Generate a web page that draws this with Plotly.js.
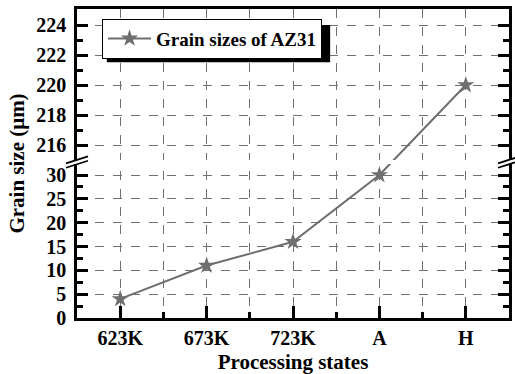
<!DOCTYPE html>
<html><head><meta charset="utf-8">
<script src="https://cdn.plot.ly/plotly-3.0.1.min.js"></script>
<style>html,body{margin:0;padding:0;background:#fff}</style>
</head><body><div id="chart" style="width:515px;height:374px"></div>
<script>
// ---- data ----
const states = ['623K', '673K', '723K', 'A', 'H'];
const grainSize = [4, 11, 16, 30, 220];
const lowerTicks = [0, 5, 10, 15, 20, 25, 30];
const lowerMinor = [2.5, 7.5, 12.5, 17.5, 22.5, 27.5];
const upperTicks = [216, 218, 220, 222, 224];
const upperMinor = [217, 219, 221, 223];
const halfSteps = [0.5, 1.5, 2.5, 3.5];
const seriesName = 'Grain sizes of AZ31';

// ---- broken-axis mapping (lower segment 0..32.5, upper segment 215..225) ----
const LOW_MAX = 32.5, UP_BASE = 216, UP_OFFSET = 36.29, UP_SCALE = 3.147;
function ty(v) { return v <= LOW_MAX ? v : UP_OFFSET + (v - UP_BASE) * UP_SCALE; }
const BREAK_AT = 32.72;
const Y_TOP = ty(225.07);

const idx = states.map((_, i) => i);
const serif = 'Liberation Serif';
const tickFont = {family: serif, size: 20, weight: 'bold', color: '#000'};
const titleFont = {family: serif, size: 21, weight: 'bold', color: '#000'};
const gridCol = '#707070';
const lineCol = '#6e6e6e';

const trace = {
  x: idx,
  y: grainSize.map(ty),
  name: seriesName,
  type: 'scatter',
  mode: 'lines+markers',
  line: {color: lineCol, width: 2},
  marker: {symbol: 'star', size: 13, color: lineCol, line: {width: 0}},
  showlegend: true
};

const brk = (xa, dy) => ({
  type: 'line', layer: 'above', xref: 'paper', yref: 'y',
  xsizemode: 'pixel', xanchor: xa, ysizemode: 'pixel', yanchor: BREAK_AT,
  x0: -11, x1: 11, y0: -3.5 + dy, y1: 3.5 + dy,
  line: {color: '#000', width: 1.8}
});

const gridStyle = {showgrid: true, gridcolor: gridCol, gridwidth: 1, griddash: 'dash'};

const layout = {
  width: 515, height: 374,
  margin: {l: 77, r: 6, t: 9, b: 56},
  paper_bgcolor: '#fff', plot_bgcolor: 'rgba(0,0,0,0)',
  showlegend: true,
  legend: {
    x: 0.058, y: 0.969, xanchor: 'left', yanchor: 'top',
    bgcolor: '#fff', bordercolor: '#000', borderwidth: 1,
    font: {family: serif, size: 19, weight: 'bold', color: '#000'},
    itemwidth: 43
  },
  xaxis: Object.assign({
    range: [-0.5, 4.5], tickmode: 'array', tickvals: idx, ticktext: states,
    ticks: 'inside', ticklen: 12, tickwidth: 3, tickcolor: '#000',
    showline: true, linewidth: 2.5, linecolor: '#000', mirror: true,
    zeroline: false, tickfont: tickFont,
    minor: Object.assign({tickmode: 'array', tickvals: halfSteps, ticks: 'inside', ticklen: 6,
            tickwidth: 3, tickcolor: '#000'}, gridStyle),
    title: {text: 'Processing states', font: titleFont, standoff: 10}
  }, gridStyle),
  yaxis: Object.assign({
    range: [0, Y_TOP], tickmode: 'array',
    tickvals: lowerTicks.concat(upperTicks).map(ty),
    ticktext: lowerTicks.concat(upperTicks).map(String),
    ticks: 'inside', ticklen: 11, tickwidth: 3, tickcolor: '#000',
    showline: true, linewidth: 2.5, linecolor: '#000', mirror: 'ticks',
    zeroline: false, tickfont: tickFont, ticklabelstandoff: 4,
    minor: {tickmode: 'array', tickvals: lowerMinor.concat(upperMinor).map(ty), ticks: 'inside',
            ticklen: 6, tickwidth: 3, tickcolor: '#000', showgrid: false},
    title: {text: 'Grain size (μm)', font: titleFont, standoff: 6}
  }, gridStyle),
  shapes: [
    // legend shadow
    {type: 'rect', layer: 'above', xref: 'paper', yref: 'paper',
     x0: 0.069, x1: 0.586, y0: 0.828, y1: 0.948, fillcolor: '#000', line: {width: 0}},
    // white band marking the axis break
    {type: 'rect', layer: 'above', xref: 'paper', yref: 'y',
     x0: -0.02, x1: 1.02, ysizemode: 'pixel', yanchor: BREAK_AT, y0: -2, y1: 2,
     fillcolor: '#fff', line: {width: 0}},
    brk(0, 2.2), brk(0, -2.2), brk(1, 2.2), brk(1, -2.2)
  ]
};

Plotly.newPlot('chart', [trace], layout, {displayModeBar: false});
</script>
</body></html>
